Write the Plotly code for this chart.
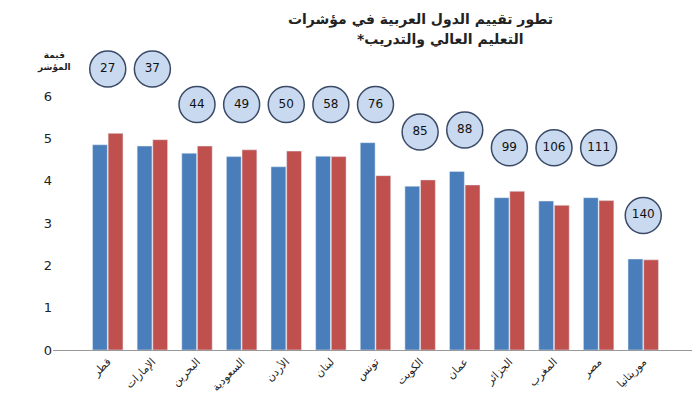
import plotly.graph_objects as go

countries = ["قطر", "الإمارات", "البحرين", "السعودية", "الأردن", "لبنان", "تونس",
             "الكويت", "عمان", "الجزائر", "المغرب", "مصر", "موريتانيا"]
blue_vals = [4.85, 4.82, 4.65, 4.57, 4.33, 4.58, 4.90, 3.87, 4.22, 3.60, 3.52, 3.60, 2.15]
red_vals = [5.12, 4.97, 4.82, 4.73, 4.70, 4.57, 4.12, 4.02, 3.90, 3.75, 3.42, 3.53, 2.13]
ranks = [27, 37, 44, 49, 50, 58, 76, 85, 88, 99, 106, 111, 140]
rank_y = [6.64, 6.64, 5.8, 5.8, 5.8, 5.8, 5.8, 5.15, 5.2, 4.78, 4.78, 4.78, 3.18]

fig = go.Figure()
fig.add_trace(go.Bar(x=countries, y=blue_vals, marker_color="#4a7ebb", showlegend=False))
fig.add_trace(go.Bar(x=countries, y=red_vals, marker_color="#c0504d", showlegend=False))
fig.add_trace(go.Scatter(
    x=countries, y=rank_y, mode="markers+text", text=[str(r) for r in ranks],
    marker=dict(symbol="circle", size=36, color="#c9daf0", line=dict(color="#3a4a66", width=1.5)),
    textfont=dict(family="DejaVu Sans", size=12, color="#111"), showlegend=False,
    cliponaxis=False,
))

fig.update_layout(
    width=700, height=400,
    margin=dict(l=45, r=10, t=50, b=58),
    paper_bgcolor="white", plot_bgcolor="white",
    barmode="group", bargap=0.3, bargroupgap=0.05,
    font=dict(family="DejaVu Sans", color="#222"),
    yaxis=dict(range=[0, 6.9], tickvals=[0, 1, 2, 3, 4, 5, 6], showgrid=False,
               tickfont=dict(size=13), zeroline=False, showline=False),
    xaxis=dict(tickangle=-45, tickfont=dict(size=11), showline=True,
               linecolor="#999", linewidth=1, automargin=False),
    annotations=[
        dict(text="<b>تطور تقييم الدول العربية في مؤشرات</b>", x=0.57, y=398, xref="paper",
             yref="paper", showarrow=False, font=dict(size=14)),
        dict(text="<b>قيمة<br>المؤشر</b>", x=0.0, y=1.0, xref="paper", yref="paper",
             xshift=-18, yshift=10, showarrow=False, font=dict(size=9)),
    ],
)
fig.layout.annotations[0].update(y=1.0, yanchor="bottom", yshift=28)
fig.add_annotation(text="<b>*التعليم العالي والتدريب</b>", x=0.6, y=1.0, xref="paper",
                   yref="paper", yanchor="bottom", yshift=8, showarrow=False,
                   font=dict(size=14))

fig.write_html("out.html")
